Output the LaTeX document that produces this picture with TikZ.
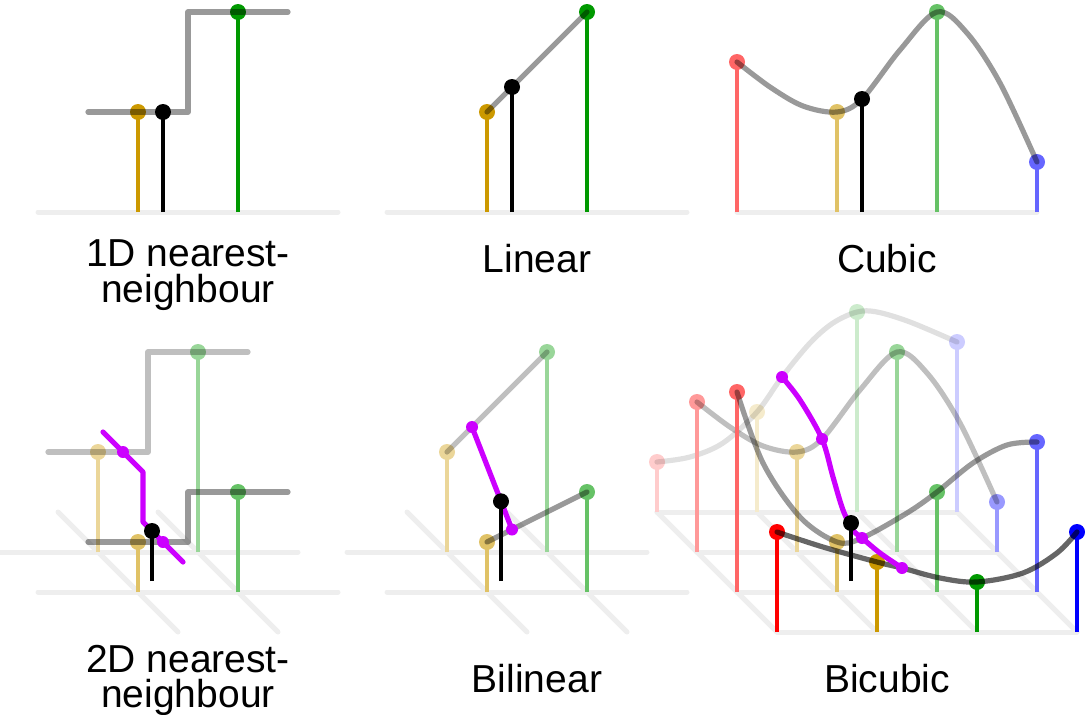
\documentclass[tikz,border=0pt]{standalone}
\usepackage{fontspec}
\setmainfont{Liberation Sans}
\definecolor{cgold}{RGB}{204,153,0}
\definecolor{cgreen}{RGB}{0,153,0}
\definecolor{cred}{RGB}{255,0,0}
\definecolor{cblue}{RGB}{0,0,255}
\definecolor{cmag}{RGB}{204,0,255}
\definecolor{cgrid}{RGB}{238,238,238}
\newcommand\stemdot[4]{\draw[stemline,#4] (#1,#2) -- (#1,#2-#3); \fill[#4] (#1,#2-#3) circle[radius=8pt];}
\newcommand\blackpt[3]{\draw[stemline,black] (#1,#2) -- (#1,#2-#3); \fill[black] (#1,#2-#3) circle[radius=8pt];}
\newcommand\magdot[2]{\fill[cmag] (#1,#2) circle[radius=6pt];}
\tikzset{
  gridline/.style={line width=5pt, cgrid, line cap=round},
  stemline/.style={line width=4.6pt},
  interp/.style={line width=5.2pt, line cap=round, line join=round, draw=black, draw opacity=#1},
  magline/.style={line width=5.2pt, cmag, line cap=round, line join=round},
  lab/.style={font=\fontsize{39}{39}\selectfont, anchor=base, inner sep=0pt}
}
\begin{document}
\begin{tikzpicture}[x=1pt,y=-1pt]
\useasboundingbox (0,0) rectangle (1085,715);

% ---------- Panel 1: 1D nearest-neighbour ----------
\draw[gridline] (38,212) -- (338,212);
\stemdot{138}{212}{100}{cgold}
\stemdot{238}{212}{200}{cgreen}
\draw[interp=0.4] (88,112) -- (188,112) -- (188,12) -- (288,12);
\blackpt{163}{212}{100}
\node[lab] (l1a) at (188,266) {1D nearest-};
\node[lab] (l1b) at (188,302) {neighbour};

% ---------- Panel 2: Linear ----------
\draw[gridline] (387,212) -- (687,212);
\stemdot{487}{212}{100}{cgold}
\stemdot{587}{212}{200}{cgreen}
\draw[interp=0.4] (487,112) -- (587,12);
\blackpt{512}{212}{125}
\node[lab] (l2) at (537,272) {Linear};

% ---------- Panel 3: Cubic ----------
\draw[gridline] (737,212) -- (1037,212);
\stemdot{737}{212}{150}{cred!60}
\stemdot{837}{212}{100}{cgold!60}
\stemdot{937}{212}{200}{cgreen!60}
\stemdot{1037}{212}{50}{cblue!60}
\draw[interp=0.4] plot[smooth,tension=0.55] coordinates {(737,62) (770,87) (803,106) (837,112) (862,99) (900,50) (937,12) (967,33) (1000,83) (1037,162)};
\blackpt{862}{212}{113}
\node[lab] (l3) at (887,272) {Cubic};

% ---------- Panel 4: 2D nearest-neighbour ----------
\draw[gridline] (-2,552) -- (298,552);
\draw[gridline] (38,592) -- (338,592);
\draw[gridline] (58,512) -- (178,632);
\draw[gridline] (158,512) -- (278,632);
\stemdot{98}{552}{100}{cgold!40}
\stemdot{198}{552}{200}{cgreen!40}
\draw[interp=0.25] (48,452) -- (148,452) -- (148,352) -- (248,352);
\stemdot{138}{592}{50}{cgold!60}
\stemdot{238}{592}{100}{cgreen!60}
\draw[interp=0.4] (88,542) -- (188,542) -- (188,492) -- (288,492);
\draw[magline] (103,432) -- (123,452) -- (143,472) -- (143,522) -- (163,542) -- (183,562);
\magdot{123}{452}
\magdot{163}{542}
\blackpt{152}{581}{50}
\node[lab] (l4a) at (188,672) {2D nearest-};
\node[lab] (l4b) at (188,707) {neighbour};

% ---------- Panel 5: Bilinear ----------
\draw[gridline] (347,552) -- (647,552);
\draw[gridline] (387,592) -- (687,592);
\draw[gridline] (407,512) -- (527,632);
\draw[gridline] (507,512) -- (627,632);
\stemdot{447}{552}{100}{cgold!40}
\stemdot{547}{552}{200}{cgreen!40}
\draw[interp=0.25] (447,452) -- (547,352);
\stemdot{487}{592}{50}{cgold!60}
\stemdot{587}{592}{100}{cgreen!60}
\draw[interp=0.4] (487,542) -- (587,492);
\draw[magline] (472,427) -- (512,529.5);
\magdot{472}{427}
\magdot{512}{529.5}
\blackpt{501}{581}{79.7}
\node[lab] (l5) at (537,692) {Bilinear};

% ---------- Panel 6: Bicubic ----------
\draw[gridline] (657,512) -- (957,512);
\draw[gridline] (697,552) -- (997,552);
\draw[gridline] (737,592) -- (1037,592);
\draw[gridline] (777,632) -- (1077,632);
\draw[gridline] (657,512) -- (777,632);
\draw[gridline] (757,512) -- (877,632);
\draw[gridline] (857,512) -- (977,632);
\draw[gridline] (957,512) -- (1077,632);
% row 3
\stemdot{657}{512}{50}{cred!20}
\stemdot{757}{512}{100}{cgold!20}
\stemdot{857}{512}{200}{cgreen!20}
\stemdot{957}{512}{170}{cblue!20}
\draw[interp=0.12] plot[smooth,tension=0.55] coordinates {(657,462) (690,457) (723,443) (757,412) (782,377) (810,343) (833,323) (857,312) (877,312) (910,322) (957,342)};
% row 2
\stemdot{697}{552}{150}{cred!40}
\stemdot{797}{552}{100}{cgold!40}
\stemdot{897}{552}{200}{cgreen!40}
\stemdot{997}{552}{50}{cblue!40}
\draw[interp=0.25] plot[smooth,tension=0.55] coordinates {(697,402) (730,427) (763,446) (797,452) (822,439) (860,390) (897,352) (927,373) (960,423) (997,502)};
% row 1
\stemdot{737}{592}{200}{cred!60}
\stemdot{837}{592}{50}{cgold!60}
\stemdot{937}{592}{100}{cgreen!60}
\stemdot{1037}{592}{150}{cblue!60}
\draw[interp=0.4] plot[smooth,tension=0.55] coordinates {(737,392) (763,463) (800,517) (837,542) (862,538) (907,513) (937,492) (973,463) (1007,445) (1037,442)};
% row 0
\stemdot{777}{632}{100}{cred}
\stemdot{877}{632}{70}{cgold}
\stemdot{977}{632}{50}{cgreen}
\stemdot{1077}{632}{100}{cblue}
\draw[interp=0.6] plot[smooth,tension=0.55] coordinates {(777,532) (823,547) (877,562) (902,568) (940,578) (977,582) (1023,573) (1057,553) (1077,532)};
% interpolation across rows
\draw[magline] plot[smooth,tension=0.55] coordinates {(782,377) (800,400) (822,439) (833,477) (843,510) (853,530) (862,538) (880,553) (902,568)};
\magdot{782}{377}
\magdot{822}{439}
\magdot{862}{538}
\magdot{902}{568}
\blackpt{851}{581}{58}
\node[lab] (l6) at (887,692) {Bicubic};
\end{tikzpicture}
\end{document}
